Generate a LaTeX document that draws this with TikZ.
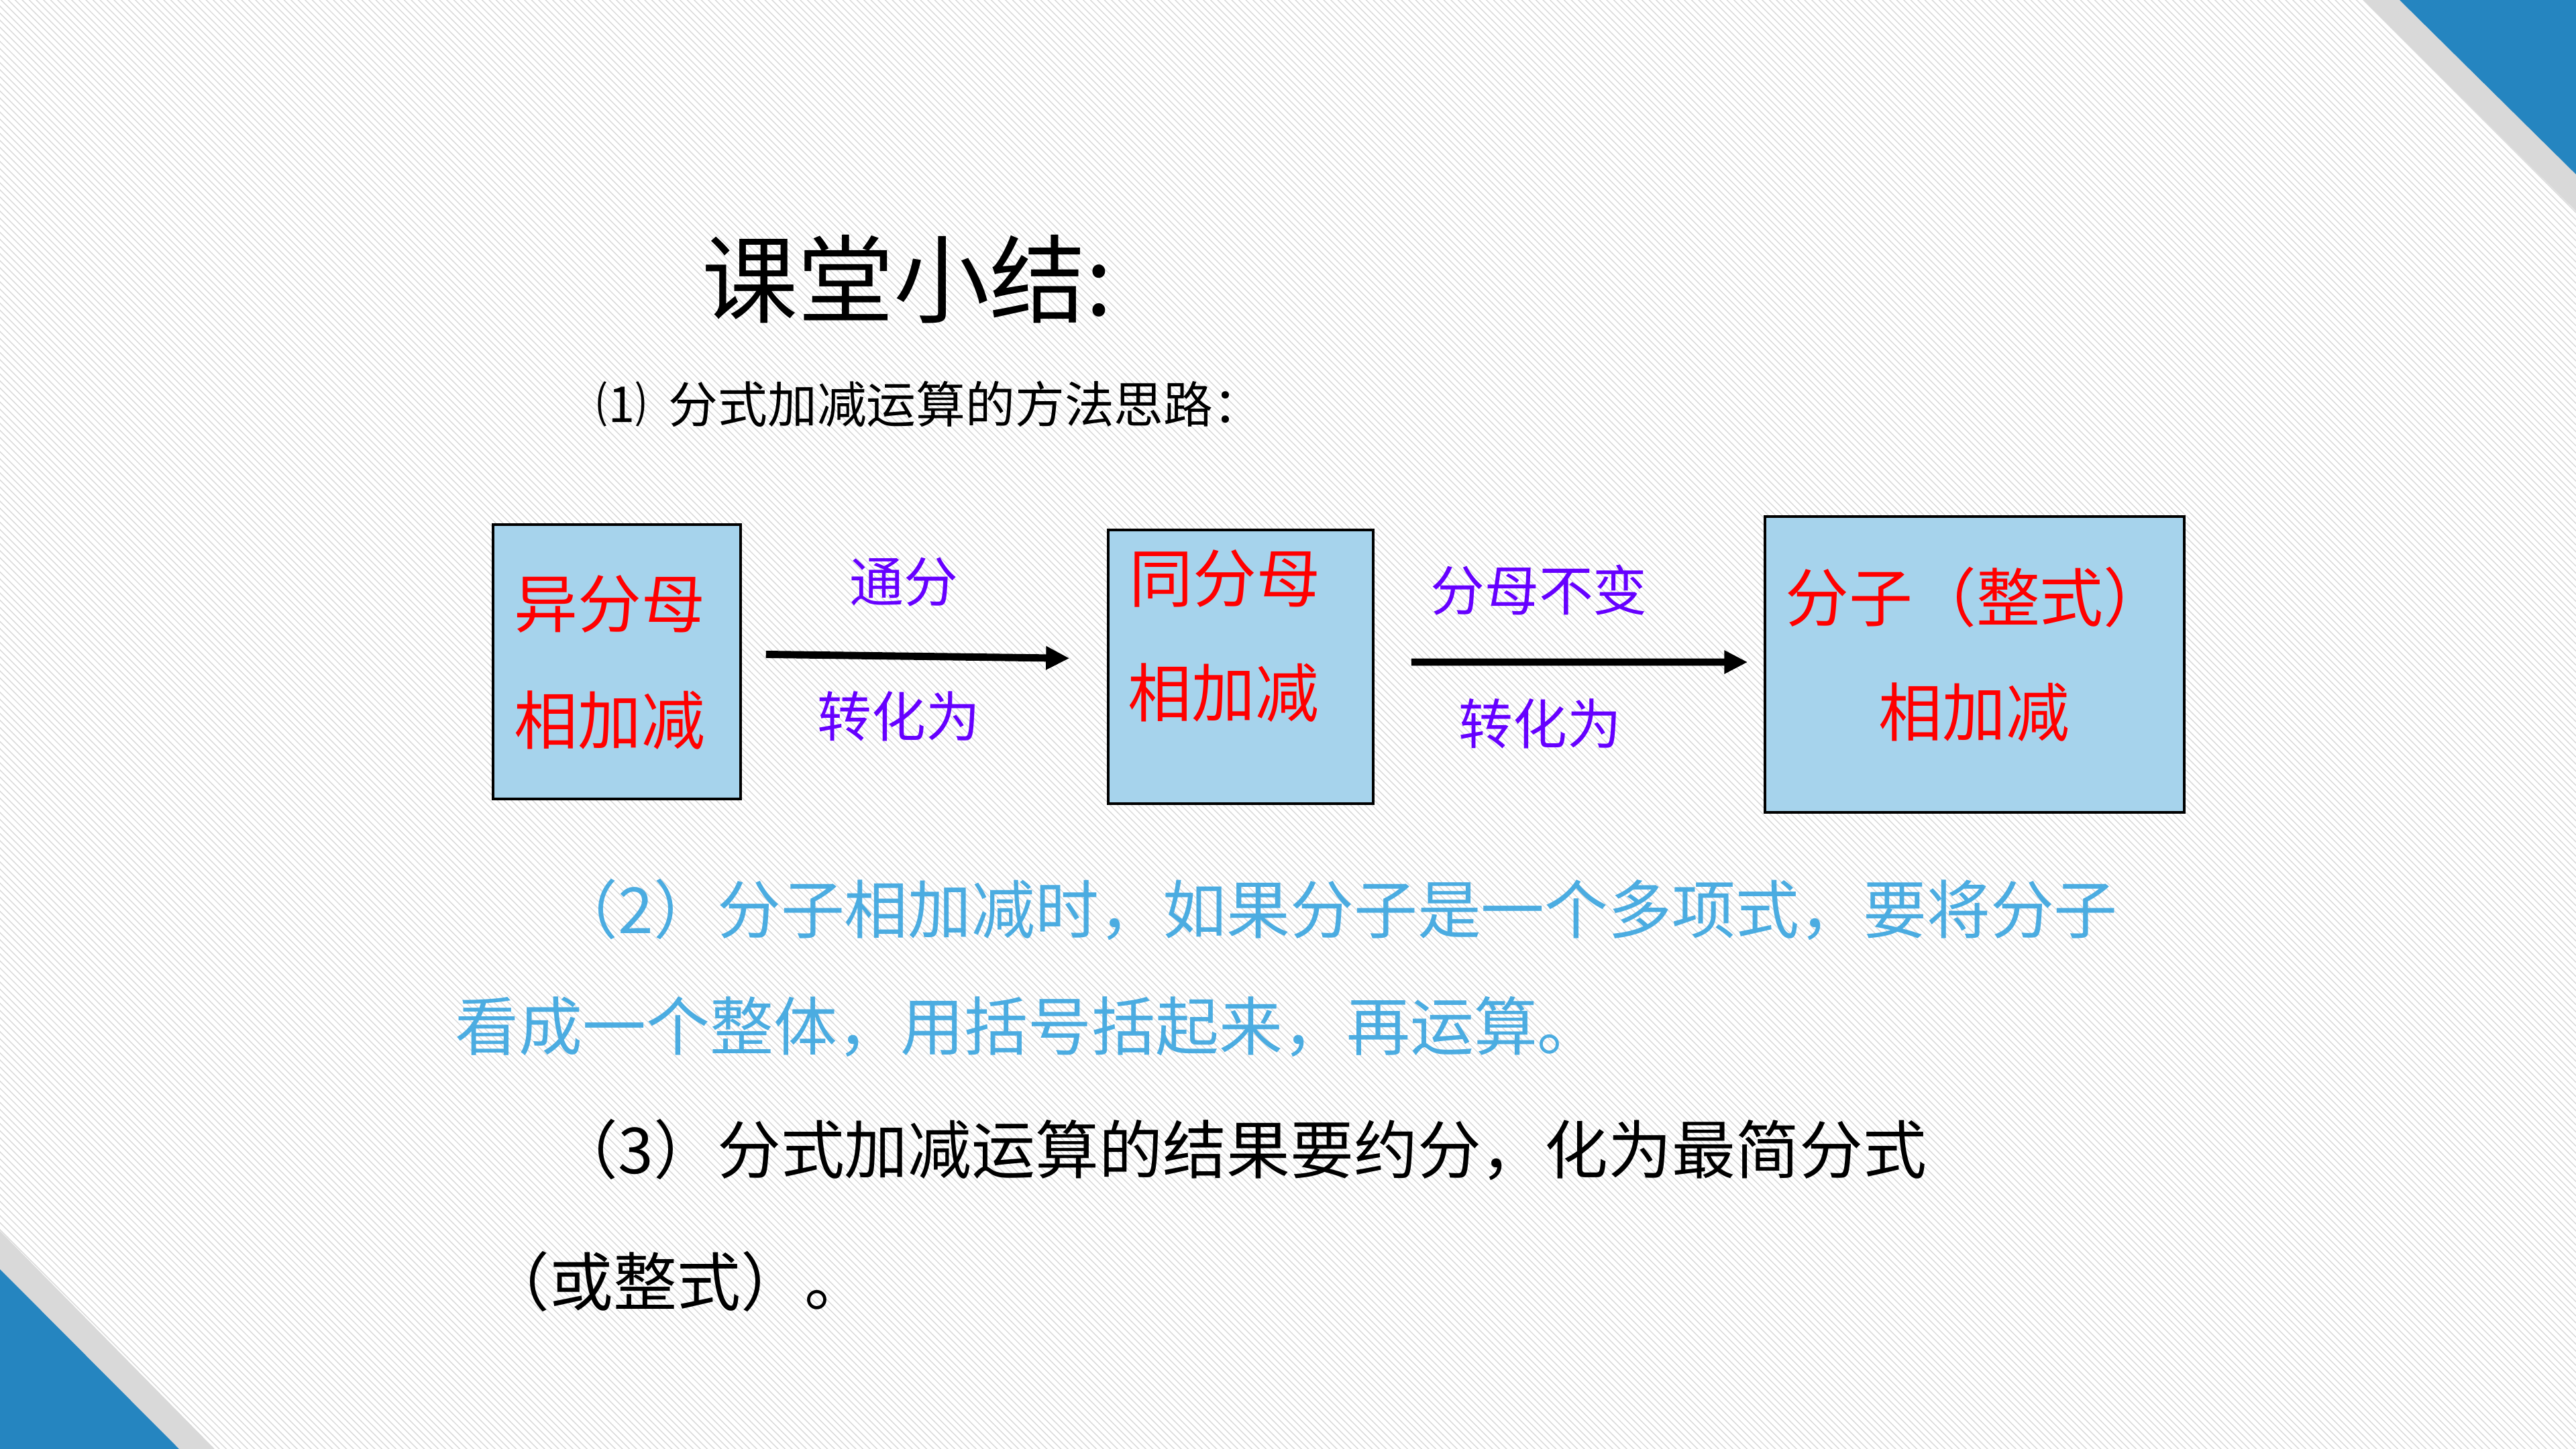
\documentclass[tikz,border=0pt]{standalone}
\usepackage{fontspec}
\setmainfont{Noto Sans CJK SC}
\usepackage{xcolor}
\usetikzlibrary{arrows.meta,patterns}
\definecolor{slideblue}{RGB}{37,133,192}
\definecolor{bandgray}{RGB}{217,217,217}
\definecolor{boxblue}{RGB}{166,211,236}
\definecolor{labelviolet}{RGB}{102,0,255}
\definecolor{noteblue}{RGB}{75,172,225}
\newcommand{\titlesize}{\fontsize{40.7pt}{48pt}\selectfont}
\newcommand{\subsize}{\fontsize{21pt}{25pt}\selectfont}
\newcommand{\boxsize}{\fontsize{27pt}{32pt}\selectfont}
\newcommand{\labelsize}{\fontsize{23pt}{28pt}\selectfont}
\newcommand{\bodysize}{\fontsize{27pt}{32pt}\selectfont}

\begin{document}
\begin{tikzpicture}[>=Latex,
  stepbox/.style={draw=black,line width=1pt,fill=boxblue,inner sep=0pt},
  boxtext/.style={red,font=\boxsize,inner sep=0pt},
  arrowlabel/.style={labelviolet,font=\labelsize,inner sep=0pt},
  flow/.style={line width=3.1pt,-{Triangle[length=3.5mm,width=3.3mm]}},
  textline/.style={anchor=west,inner sep=0pt,font=\bodysize}]
\useasboundingbox (0,0) rectangle (38.4,-21.6);
% background: white with fine diagonal texture
\fill[white] (0,0) rectangle (38.4,-21.6);
\fill[pattern=north west lines,pattern color=black!15] (0,0) rectangle (38.4,-21.6);
% corner decorations
\fill[bandgray] (35.23,0) -- (35.77,0) -- (38.4,-2.60) -- (38.4,-3.15) -- cycle;
\fill[slideblue] (35.77,0) -- (38.4,0) -- (38.4,-2.60) -- cycle;
\fill[bandgray] (0,-18.35) -- (3.20,-21.6) -- (2.67,-21.6) -- (0,-18.92) -- cycle;
\fill[slideblue] (0,-18.92) -- (2.67,-21.6) -- (0,-21.6) -- cycle;
% heading
\node[anchor=west,inner sep=0pt,font=\titlesize] (title) at (10.46,-4.16) {课堂小结:};
\node[anchor=west,inner sep=0pt,font=\subsize] (subtitle) at (8.89,-6.02) {⑴\hspace{0.45em}分式加减运算的方法思路：};
% flow of the method
\node[stepbox,minimum width=3.69cm,minimum height=4.09cm] (box1) at (9.195,-9.865) {};
\node[stepbox,minimum width=3.95cm,minimum height=4.08cm] (box2) at (18.495,-9.94) {};
\node[stepbox,minimum width=6.25cm,minimum height=4.41cm] (box3) at (29.435,-9.905) {};
\node[boxtext] (b1top) at (9.09,-9.00) {异分母};
\node[boxtext] (b1bot) at (9.09,-10.74) {相加减};
\node[boxtext] (b2top) at (18.26,-8.62) {同分母};
\node[boxtext] (b2bot) at (18.24,-10.33) {相加减};
\node[boxtext] (b3top) at (29.46,-8.90) {分子（整式）};
\node[boxtext] (b3bot) at (29.43,-10.62) {相加减};
\draw[flow,shorten <=0.36cm,shorten >=0.56cm] ([yshift=0.115cm]box1.east) -- ([yshift=0.12cm]box2.west);
\draw[flow,shorten <=0.55cm,shorten >=0.24cm] ([yshift=0.07cm]box2.east) -- ([yshift=0.035cm]box3.west);
\node[arrowlabel] (l1top) at (13.47,-8.68) {通分};
\node[arrowlabel] (l1bot) at (13.40,-10.68) {转化为};
\node[arrowlabel] (l2top) at (22.94,-8.80) {分母不变};
\node[arrowlabel] (l2bot) at (22.96,-10.79) {转化为};
% remarks (2) and (3)
\node[textline,noteblue] (rem2a) at (8.26,-13.56) {（2）分子相加减时，如果分子是一个多项式，要将分子};
\node[textline,noteblue] (rem2b) at (6.78,-15.30) {看成一个整体，用括号括起来，再运算。};
\node[textline] (rem3a) at (8.26,-17.14) {（3）分式加减运算的结果要约分，化为最简分式};
\node[textline] (rem3b) at (7.24,-19.10) {（或整式）。};
\end{tikzpicture}
\end{document}
